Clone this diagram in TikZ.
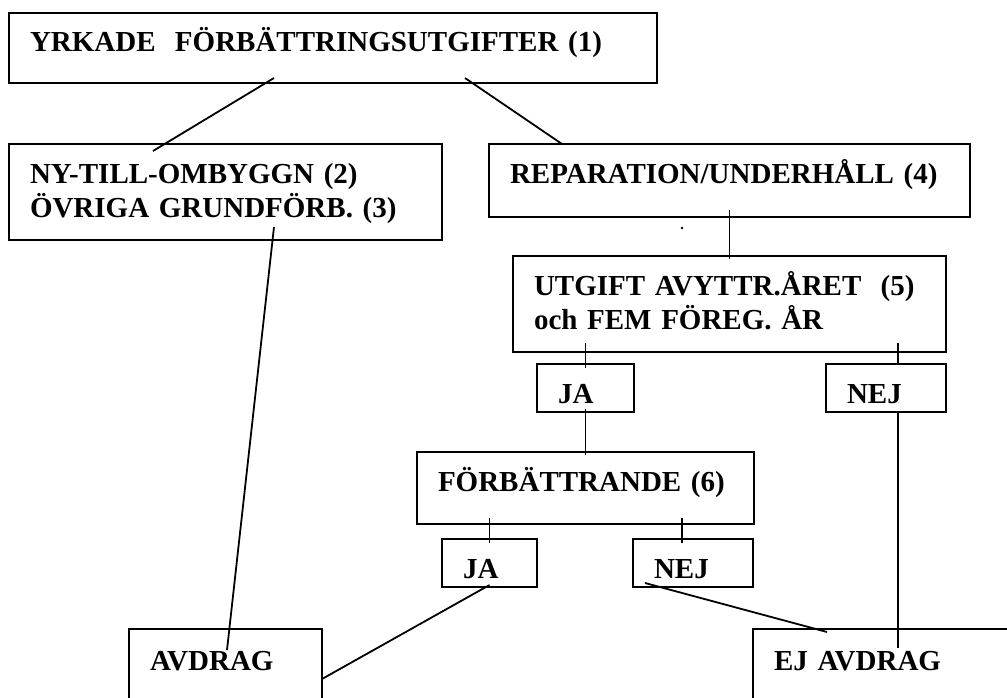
\documentclass[tikz,border=0pt]{standalone}
\usepackage{fontspec}
\setmainfont{Liberation Serif}
\usetikzlibrary{calc}
\frenchspacing

\begin{document}
\begin{tikzpicture}[x=1pt, y=-1pt,
		box/.style={draw, line width=1.8pt, anchor=north west, align=left, outer sep=0pt,
			inner xsep=21pt, inner ysep=0pt, text height=39pt, font=\fontsize{29}{34}\selectfont\bfseries},
		link/.style={line width=1.8pt}]
		\useasboundingbox (0,0) rectangle (1007,698);
		\clip (0,0) rectangle (1007,698);
		% boxes
		\node[box, text width=606pt, text depth=31pt] (yrk) at (9,13) {YRKADE\ \ FÖRBÄTTRINGSUTGIFTER (1)};
		\node[box, text width=391pt, text depth=57pt] (ny) at (9,144) {NY-TILL-OMBYGGN (2)\\ÖVRIGA GRUNDFÖRB. (3)};
		\node[box, text width=439pt, text depth=34pt] (rep) at (489,144) {REPARATION/UNDERHÅLL (4)};
		\node[box, text width=391pt, text depth=57pt] (utg) at (513,256) {UTGIFT AVYTTR.ÅRET\ \ (5)\\och FEM FÖREG. ÅR};
		\node[box, text width=55pt, text depth=9pt] (ja1) at (537,364) {JA};
		\node[box, text width=78pt, text depth=9pt] (nej1) at (826,364) {NEJ};
		\node[box, text width=295pt, text depth=33pt] (foer) at (417,452) {FÖRBÄTTRANDE (6)};
		\node[box, text width=53pt, text depth=9pt] (ja2) at (442,539) {JA};
		\node[box, text width=78pt, text depth=9pt] (nej2) at (633,539) {NEJ};
		\node[box, text width=151pt, text height=41pt, text depth=59pt] (avd) at (129,629) {AVDRAG};
		\node[box, text width=258pt, text height=41pt, text depth=59pt] (ej) at (753,629) {EJ AVDRAG};
		\fill (682,228) circle (1.4pt);
		% connectors
		\draw[link] ($(yrk.south west)+(265,-5)$) -- ($(ny.north west)+(144,7)$);
		\draw[link] ($(yrk.south west)+(456,-5)$) -- ($(rep.north west)+(73,0)$);
		\draw[link] ($(ny.south west)+(265,-13)$) -- ($(avd.north west)+(98,21)$);
		\draw[link] ($(rep.south)+(0,-7)$) -- ($(rep.south|-utg.north)+(0,3)$);
		\draw[link] ($(ja1.north|-utg.south)+(0,-9)$) -- ($(ja1.north)+(0,4)$);
		\draw[link] ($(nej1.north west)+(72,-21)$) -- ($(nej1.north west)+(72,0)$);
		\draw[link] ($(ja1.south)+(0,-3)$) -- ($(ja1.south|-foer.north)+(0,3)$);
		\draw[link] ($(ja2.north|-foer.south)+(0,-6)$) -- ($(ja2.north)+(0,4)$);
		\draw[link] ($(nej2.north west)+(49,-21)$) -- ($(nej2.north west)+(49,4)$);
		\draw[link] ($(nej1.south west)+(72,0)$) -- ($(ej.north west)+(145,19)$);
		\draw[link] ($(ja2.south)+(0,-2)$) -- ($(avd.north east)+(0,50)$);
		\draw[link] ($(nej2.south west)+(12,-4)$) -- ($(ej.north west)+(74,3)$);
	\end{tikzpicture}
\end{document}
